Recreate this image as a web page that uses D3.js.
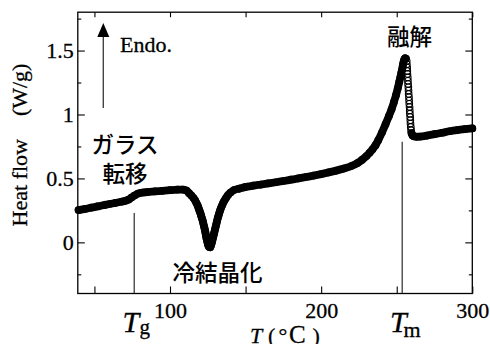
<!DOCTYPE html>
<html>
<head>
<meta charset="utf-8">
<script src="https://cdn.jsdelivr.net/npm/d3@7"></script>
<style>
  body { margin: 0; background: #fff; }
  #chart svg { display: block; }
  .serif { font-family: "Liberation Serif", "Times New Roman", Times, serif; stroke: #000; stroke-width: 0.3px; }
  .jp { font-family: "Noto Sans CJK JP", "Noto Sans CJK SC", sans-serif; font-weight: 500; }
</style>
</head>
<body>
<div id="chart"></div>
<script>
// DSC trace
var tempC = [
    39.5, 44, 48, 52, 56, 60, 64, 68, 70.5, 72.5, 74.5, 76.5, 78.5, 81, 85, 90, 95, 100, 105, 108.5, 111,
    112.6, 114.2, 115.6, 116.7, 117.5, 118.3, 118.9, 119.5, 120.1, 120.6, 121.1, 121.6, 122.0, 122.4, 122.8,
    123.2, 123.5, 123.8, 124.1, 124.5, 124.9, 125.3, 125.9, 126.6, 127.1, 127.6, 128.0, 128.4, 128.8, 129.2,
    129.6, 130.0, 130.4, 130.8, 131.2, 131.6, 132.1, 132.6, 133.1, 133.7, 134.4, 135.1, 136.0, 137.0, 138.4,
    140.0, 142.3, 145.7, 149.6,
    155, 160, 165, 170, 175, 180, 185, 190, 195, 200, 205, 210, 215, 220, 224, 227, 230, 232, 234, 236,
    237.8, 240.3, 242.6, 244.8, 246.6, 248.1, 249.5, 250.7, 251.7, 252.4, 253.0, 253.5, 253.9, 254.2, 254.6,
    255.0, 255.5, 256.0,
    256.6, 256.7, 256.9, 257.0, 257.1, 257.3, 257.4, 257.5, 257.7, 257.8, 257.9, 258.1, 258.2, 258.3, 258.5,
    258.6, 258.7, 258.9, 259.0, 259.1, 259.3, 259.5, 259.8, 260.5, 261.6, 263.2, 265.5,
    270, 275, 280, 285, 290, 295, 300
];
var heatFlow = [
    0.252, 0.262, 0.272, 0.281, 0.290, 0.300, 0.309, 0.318, 0.325, 0.334, 0.350, 0.366, 0.380, 0.388, 0.393,
    0.398, 0.403, 0.408, 0.412, 0.413, 0.405,
    0.385, 0.366, 0.346, 0.327, 0.307, 0.288, 0.268, 0.248, 0.229, 0.209, 0.190, 0.170, 0.151, 0.131, 0.112,
    0.092, 0.073, 0.053, 0.034, 0.014, -0.005, -0.023, -0.037, -0.039, -0.025, -0.005, 0.014, 0.034, 0.053, 0.073,
    0.092, 0.112, 0.131, 0.151, 0.170, 0.190, 0.209, 0.229, 0.248, 0.268, 0.288, 0.307, 0.327, 0.346, 0.370,
    0.389, 0.409, 0.420, 0.432,
    0.443, 0.452, 0.461, 0.470, 0.480, 0.490, 0.500, 0.511, 0.522, 0.534, 0.547, 0.561, 0.577, 0.597, 0.620,
    0.645, 0.675, 0.700, 0.728, 0.760,
    0.799, 0.861, 0.924, 0.987, 1.041, 1.096, 1.151, 1.205, 1.256, 1.291, 1.323, 1.350, 1.373, 1.395, 1.414,
    1.430, 1.440, 1.438,
    1.418, 1.393, 1.367, 1.341, 1.316, 1.290, 1.264, 1.238, 1.213, 1.187, 1.161, 1.135, 1.109, 1.084, 1.058,
    1.032, 1.006, 0.980, 0.955, 0.929, 0.903, 0.877, 0.854, 0.836, 0.828, 0.826, 0.827,
    0.835, 0.846, 0.857, 0.869, 0.878, 0.885, 0.891
];

var xTicks = [100, 200, 300];
var xMinorTicks = [50, 150, 250];
var yTicks = [0, 0.5, 1, 1.5];
var yMinorTicks = [-0.25, 0.25, 0.75, 1.25, 1.75];
var tgTemp = 76.3;
var tmTemp = 253.6;

makeGraph();

function makeGraph() {
    var svgWidth = 490;
    var svgHeight = 344;

    var margin = {
        top: 12.2,
        right: 17.7,
        bottom: 50.5,
        left: 77.8
    };

    var chartWidth = svgWidth - margin.left - margin.right;
    var chartHeight = svgHeight - margin.top - margin.bottom;

    var svg = d3.select("#chart")
        .append("svg")
        .attr("width", svgWidth)
        .attr("height", svgHeight);

    var chartGroup = svg.append("g")
        .attr("transform", `translate(${margin.left}, ${margin.top})`);

    var xScale = d3.scaleLinear()
        .domain([39, 300])
        .range([0, chartWidth]);

    var yScale = d3.scaleLinear()
        .domain([-0.4, 1.8])
        .range([chartHeight, 0]);

    function styleAxis(g) {
        g.select(".domain").remove();
        g.attr("font-family", null).attr("font-size", null);
        g.selectAll("line").attr("stroke", "#000").attr("stroke-width", 1.1);
        g.selectAll("text")
            .classed("serif", true)
            .style("font-size", "22px")
            .attr("fill", "#000");
    }

    // bottom + top
    chartGroup.append("g")
        .attr("transform", `translate(0, ${chartHeight})`)
        .call(d3.axisBottom(xScale).tickValues(xTicks).tickSize(-7).tickPadding(9).tickFormat(d3.format("d")))
        .call(styleAxis);
    chartGroup.append("g")
        .attr("transform", `translate(0, ${chartHeight})`)
        .call(d3.axisBottom(xScale).tickValues(xMinorTicks).tickSize(-7).tickFormat(""))
        .call(styleAxis);
    chartGroup.append("g")
        .call(d3.axisTop(xScale).tickValues(xTicks.concat(xMinorTicks)).tickSize(-5).tickFormat(""))
        .call(styleAxis);

    // left + right
    chartGroup.append("g")
        .call(d3.axisLeft(yScale).tickValues(yTicks).tickSize(-7).tickPadding(4).tickFormat(d3.format("")))
        .call(styleAxis);
    chartGroup.append("g")
        .call(d3.axisLeft(yScale).tickValues(yMinorTicks).tickSize(-3.5).tickFormat(""))
        .call(styleAxis);
    chartGroup.append("g")
        .attr("transform", `translate(${chartWidth}, 0)`)
        .call(d3.axisRight(yScale).tickValues(yTicks).tickSize(-7).tickFormat(""))
        .call(styleAxis);
    chartGroup.append("g")
        .attr("transform", `translate(${chartWidth}, 0)`)
        .call(d3.axisRight(yScale).tickValues(yMinorTicks).tickSize(-3.5).tickFormat(""))
        .call(styleAxis);

    chartGroup.append("rect")
        .attr("width", chartWidth)
        .attr("height", chartHeight)
        .attr("fill", "none")
        .attr("stroke", "#000")
        .attr("stroke-width", 1.3);

    // Tg / Tm markers
    chartGroup.append("line")
        .attr("x1", xScale(tgTemp)).attr("x2", xScale(tgTemp))
        .attr("y1", yScale(0.23)).attr("y2", chartHeight)
        .attr("stroke", "#000").attr("stroke-width", 1);
    chartGroup.append("line")
        .attr("x1", xScale(tmTemp)).attr("x2", xScale(tmTemp))
        .attr("y1", yScale(0.787)).attr("y2", chartHeight)
        .attr("stroke", "#000").attr("stroke-width", 1);

    var points = tempC.map(function(t, i) {
        return { t: t, hf: heatFlow[i] };
    });

    // where the trace is near vertical the markers show up as separate rings
    points.forEach(function(d, i) {
        function slopeTo(j) {
            var o = points[j];
            if (!o) return 0;
            var dx = Math.abs(xScale(o.t) - xScale(d.t));
            var dy = Math.abs(yScale(o.hf) - yScale(d.hf));
            return dy / Math.max(dx, 0.01);
        }
        d.steep = Math.max(slopeTo(i - 1), slopeTo(i + 1)) > 8;
    });

    var line = d3.line()
        .defined(d => !d.steep)
        .x(d => xScale(d.t))
        .y(d => yScale(d.hf))
        .curve(d3.curveMonotoneX);

    chartGroup.append("path")
        .datum(points)
        .attr("d", line)
        .attr("fill", "none")
        .attr("stroke", "#000")
        .attr("stroke-width", 7.8)
        .attr("stroke-linecap", "round")
        .attr("stroke-linejoin", "round");

    chartGroup.append("g")
        .selectAll("circle")
        .data(points)
        .enter()
        .append("circle")
        .attr("cx", d => xScale(d.t))
        .attr("cy", d => yScale(d.hf))
        .attr("r", 3.3)
        .attr("fill", "none")
        .attr("stroke", "#000")
        .attr("stroke-width", 1.1);

    // Endo. arrow
    svg.append("line")
        .attr("x1", 103.3).attr("x2", 103.3)
        .attr("y1", 108).attr("y2", 34)
        .attr("stroke", "#444").attr("stroke-width", 1.4);
    svg.append("path")
        .attr("d", "M103.3,23 L97.3,37 L109.3,37 Z")
        .attr("fill", "#000");
    svg.append("text")
        .attr("class", "serif")
        .attr("x", 120).attr("y", 51.5)
        .style("font-size", "22px")
        .text("Endo.");

    // annotations
    var notes = [
        { text: "ガラス", x: 125, y: 153 },
        { text: "転移", x: 125, y: 181.5 },
        { text: "冷結晶化", x: 217.5, y: 280.5 },
        { text: "融解", x: 409.5, y: 45 }
    ];
    svg.append("g")
        .selectAll("text")
        .data(notes)
        .enter()
        .append("text")
        .attr("class", "jp")
        .attr("x", d => d.x)
        .attr("y", d => d.y)
        .attr("text-anchor", "middle")
        .style("font-size", "22.5px")
        .text(d => d.text);

    // Tg and Tm under the axis
    var tg = svg.append("text")
        .attr("class", "serif")
        .attr("x", 122.5).attr("y", 331.5);
    tg.append("tspan").style("font-style", "italic").style("font-size", "30px").text("T");
    tg.append("tspan").style("font-size", "21px").attr("x", 139.5).attr("y", 334).text("g");

    var tm = svg.append("text")
        .attr("class", "serif")
        .attr("x", 390).attr("y", 331.5);
    tm.append("tspan").style("font-style", "italic").style("font-size", "30px").text("T");
    tm.append("tspan").style("font-size", "22px").attr("x", 403.5).attr("y", 336.5).text("m");

    // axis titles
    var xt = svg.append("text")
        .attr("class", "serif")
        .attr("y", 342.6)
        .style("font-size", "22px");
    xt.append("tspan").attr("x", 250).style("font-style", "italic").text("T");
    xt.append("tspan").attr("x", 268).text("(");
    xt.append("tspan").attr("x", 278.5).text("°");
    xt.append("tspan").attr("x", 289).style("font-size", "25px").text("C");
    xt.append("tspan").attr("x", 312.5).text(")");

    var yt = svg.append("text")
        .attr("class", "serif")
        .attr("transform", "translate(27, 145) rotate(-90)")
        .attr("text-anchor", "middle")
        .style("font-size", "22px");
    yt.append("tspan").text("Heat flow");
    yt.append("tspan").attr("dx", 23).text("(W/g)");
}
</script>
</body>
</html>
